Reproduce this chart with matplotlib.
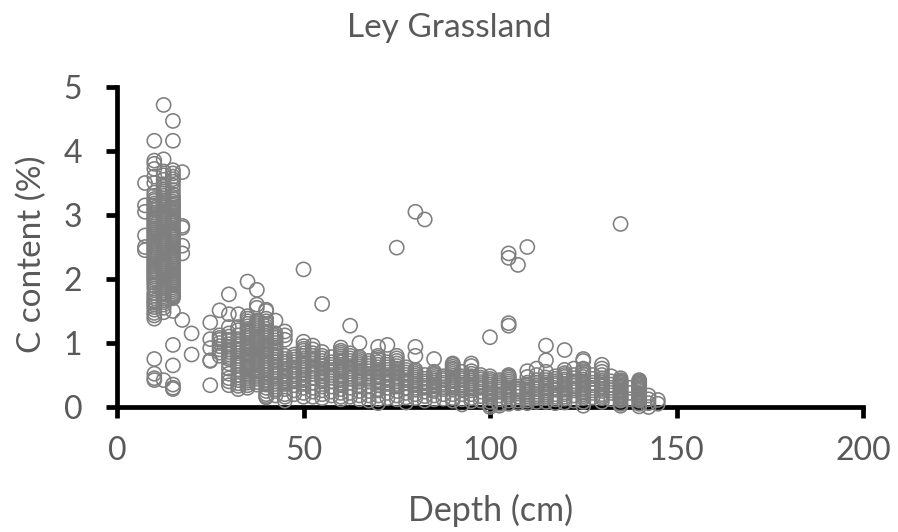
"""Ley Grassland: C content against depth."""
import matplotlib
matplotlib.use("Agg")
import matplotlib.pyplot as plt

GREY, TXT = "#7F7F7F", "#595959"
plt.rcParams.update({"font.family": ["Lato", "DejaVu Sans"], "font.size": 20})

# depth (cm) of each sampled column and the C content (%) read for it
depths = [7.5, 10, 12.5, 15, 17.5, 20,
          25, 27.5, 30, 32.5, 35, 37.5, 40, 42.5, 45, 47.5,
          50, 52.5, 55, 57.5, 60, 62.5, 65, 67.5, 70, 72.5,
          75, 77.5, 80, 82.5, 85, 87.5, 90, 92.5, 95, 97.5,
          100, 102.5, 105, 107.5, 110, 112.5, 115, 117.5, 120, 122.5,
          125, 127.5, 130, 132.5, 135, 137.5, 140, 142.5, 145]

c_07 = [3.5, 3.15, 3.05, 2.68, 2.5, 2.45]
c_10 = [4.16, 3.85, 3.8, 3.72, 3.6, 3.5, 3.35, 3.3, 3.25, 3.22, 3.18, 3.15, 3.11, 3.08, 3.04, 3.0, 2.97,
        2.94, 2.91, 2.88, 2.85, 2.82, 2.79, 2.76, 2.73, 2.7, 2.67, 2.64, 2.61, 2.58, 2.55, 2.52, 2.49,
        2.46, 2.43, 2.4, 2.37, 2.34, 2.31, 2.28, 2.25, 2.22, 2.19, 2.16, 2.13, 2.1, 2.07, 2.04, 2.01,
        1.98, 1.94, 1.9, 1.85, 1.78, 1.74, 1.7, 1.66, 1.63, 1.6, 1.56, 1.52, 1.47, 1.43, 1.38,
        0.75, 0.52, 0.45, 0.42]
c_12 = [4.72, 3.87, 3.68, 3.62, 3.55, 3.48, 3.44, 3.4, 3.37, 3.34, 3.3, 3.26, 3.23, 3.2, 3.17, 3.14, 3.11,
        3.08, 3.05, 3.02, 2.99, 2.96, 2.93, 2.9, 2.87, 2.84, 2.81, 2.78, 2.75, 2.72, 2.69, 2.66, 2.63,
        2.6, 2.57, 2.54, 2.51, 2.48, 2.45, 2.42, 2.39, 2.36, 2.33, 2.3, 2.27, 2.24, 2.21, 2.18, 2.15,
        2.12, 2.09, 2.06, 2.03, 2.0, 1.97, 1.94, 1.91, 1.88, 1.85, 1.82, 1.79, 1.76, 1.73, 1.7, 1.67,
        1.64, 1.6, 1.55, 1.48, 0.42]
c_15 = [4.47, 4.16, 3.7, 3.65, 3.6, 3.56, 3.52, 3.46, 3.39, 3.32, 3.28, 3.25, 3.21, 3.18, 3.15, 3.12, 3.09,
        3.06, 3.03, 3.0, 2.97, 2.94, 2.91, 2.88, 2.84, 2.8, 2.77, 2.74, 2.71, 2.68, 2.65, 2.62, 2.59,
        2.56, 2.53, 2.5, 2.47, 2.44, 2.41, 2.38, 2.35, 2.32, 2.29, 2.26, 2.23, 2.2, 2.17, 2.14, 2.11,
        2.08, 2.05, 2.02, 1.99, 1.96, 1.93, 1.9, 1.87, 1.84, 1.81, 1.78, 1.76, 1.74, 1.72, 1.7,
        1.5, 0.97, 0.65, 0.35, 0.3, 0.28]
c_17 = [3.67, 2.83, 2.8, 2.52, 2.4, 1.36]
c_20 = [1.15, 0.82]
c_25 = [1.32, 1.06, 0.92, 0.73, 0.72, 0.34]
c_27 = [1.51, 1.12, 1.08, 1.05, 1.0, 0.95, 0.9, 0.85, 0.8]
c_30 = [1.76, 1.45, 1.25, 1.15, 1.1, 1.05, 0.98, 0.94, 0.9, 0.86, 0.82, 0.78, 0.75, 0.68, 0.6, 0.52, 0.45, 0.4, 0.34]
c_32 = [1.45, 1.25, 1.2, 1.12, 1.06, 1.02, 0.98, 0.95, 0.91, 0.88, 0.84, 0.8, 0.76, 0.72, 0.68, 0.65, 0.58, 0.5,
        0.46, 0.42, 0.37, 0.33, 0.28]
c_35 = [1.96, 1.42, 1.38, 1.34, 1.3, 1.26, 1.22, 1.18, 1.15, 1.11, 1.08, 1.04, 1.0, 0.97, 0.95, 0.92, 0.9, 0.87,
        0.85, 0.82, 0.8, 0.77, 0.74, 0.71, 0.68, 0.65, 0.62, 0.59, 0.56, 0.53, 0.5, 0.47, 0.44, 0.41, 0.38, 0.34, 0.3]
c_37 = [1.83, 1.6, 1.55, 1.35, 1.31, 1.28, 1.25, 1.22, 1.19, 1.16, 1.13, 1.1, 1.07, 1.04, 1.01, 0.98, 0.95, 0.92,
        0.89, 0.86, 0.83, 0.8, 0.77, 0.74, 0.71, 0.68, 0.65, 0.62, 0.59, 0.56, 0.53, 0.5, 0.47, 0.44, 0.39, 0.35]
c_40 = [1.52, 1.5, 1.38, 1.34, 1.3, 1.26, 1.22, 1.18, 1.15, 1.11, 1.08, 1.04, 1.0, 0.97, 0.94, 0.91, 0.88, 0.84,
        0.8, 0.76, 0.72, 0.68, 0.65, 0.61, 0.58, 0.54, 0.5, 0.46, 0.42, 0.38, 0.35, 0.3, 0.25, 0.2, 0.17, 0.15]
c_42 = [1.35, 1.15, 1.11, 1.08, 1.04, 1.0, 0.96, 0.92, 0.88, 0.85, 0.81, 0.78, 0.74, 0.7, 0.66, 0.62, 0.58, 0.55,
        0.51, 0.48, 0.44, 0.4, 0.36, 0.32, 0.28, 0.25, 0.18]
c_45 = [1.18, 1.12, 1.05, 0.8, 0.75, 0.71, 0.68, 0.64, 0.6, 0.56, 0.52, 0.48, 0.45, 0.4, 0.36, 0.28, 0.2, 0.16, 0.1]
c_47 = [0.82, 0.78, 0.74, 0.7, 0.66, 0.62, 0.58, 0.55, 0.51, 0.48, 0.44, 0.4, 0.34, 0.26, 0.2]
c_50 = [2.15, 1.02, 0.95, 0.91, 0.88, 0.84, 0.8, 0.76, 0.72, 0.68, 0.65, 0.61, 0.58, 0.54, 0.5, 0.46, 0.42, 0.36, 0.3, 0.22, 0.16]
c_52 = [0.96, 0.9, 0.84, 0.8, 0.76, 0.72, 0.68, 0.64, 0.6, 0.56, 0.52, 0.45, 0.38, 0.3, 0.24, 0.16]
c_55 = [1.61, 0.86, 0.8, 0.76, 0.72, 0.68, 0.64, 0.6, 0.56, 0.52, 0.48, 0.44, 0.4, 0.32, 0.26, 0.2, 0.14]
c_57 = [0.78, 0.7, 0.66, 0.62, 0.58, 0.54, 0.5, 0.46, 0.4, 0.32, 0.24, 0.18]
c_60 = [0.93, 0.88, 0.85, 0.82, 0.79, 0.76, 0.73, 0.7, 0.66, 0.62, 0.58, 0.55, 0.51, 0.48, 0.45, 0.42, 0.38, 0.35, 0.28, 0.22, 0.16, 0.12]
c_62 = [1.27, 0.84, 0.8, 0.76, 0.72, 0.68, 0.64, 0.6, 0.56, 0.52, 0.48, 0.45, 0.38, 0.3, 0.22, 0.16]
c_65 = [1.0, 0.78, 0.75, 0.72, 0.69, 0.66, 0.63, 0.6, 0.57, 0.54, 0.5, 0.47, 0.44, 0.4, 0.32, 0.25, 0.18, 0.12]
c_67 = [0.72, 0.68, 0.64, 0.6, 0.56, 0.52, 0.48, 0.44, 0.4, 0.33, 0.25, 0.18, 0.1]
c_70 = [0.94, 0.8, 0.77, 0.74, 0.7, 0.66, 0.62, 0.58, 0.54, 0.5, 0.46, 0.42, 0.38, 0.34, 0.26, 0.18, 0.12, 0.06]
c_72 = [0.97, 0.7, 0.66, 0.62, 0.58, 0.54, 0.5, 0.46, 0.42, 0.38, 0.3, 0.22, 0.14]
c_75 = [2.49, 0.8, 0.76, 0.72, 0.68, 0.64, 0.6, 0.56, 0.52, 0.48, 0.44, 0.4, 0.36, 0.32, 0.25, 0.18, 0.12]
c_77 = [0.62, 0.58, 0.54, 0.5, 0.46, 0.42, 0.38, 0.3, 0.22, 0.15, 0.07]
c_80 = [3.05, 0.94, 0.8, 0.58, 0.55, 0.52, 0.49, 0.46, 0.43, 0.4, 0.37, 0.34, 0.3, 0.27, 0.2, 0.14]
c_82 = [2.93, 0.5, 0.44, 0.4, 0.37, 0.33, 0.3, 0.24, 0.17, 0.1]
c_85 = [0.75, 0.55, 0.52, 0.5, 0.47, 0.44, 0.41, 0.38, 0.35, 0.32, 0.28, 0.25, 0.18, 0.12]
c_87 = [0.48, 0.45, 0.42, 0.38, 0.35, 0.31, 0.28, 0.2, 0.13]
c_90 = [0.68, 0.66, 0.63, 0.6, 0.58, 0.55, 0.52, 0.49, 0.46, 0.43, 0.4, 0.36, 0.33, 0.3, 0.27, 0.2, 0.14, 0.1]
c_92 = [0.55, 0.48, 0.45, 0.42, 0.38, 0.35, 0.31, 0.28, 0.2, 0.12, 0.04]
c_95 = [0.68, 0.64, 0.56, 0.52, 0.48, 0.45, 0.41, 0.38, 0.35, 0.32, 0.29, 0.26, 0.2, 0.14, 0.09]
c_97 = [0.5, 0.46, 0.43, 0.39, 0.36, 0.33, 0.3, 0.24, 0.17, 0.1]
c_100 = [1.09, 0.48, 0.44, 0.41, 0.38, 0.35, 0.32, 0.29, 0.26, 0.23, 0.2, 0.17, 0.14, 0.08, 0.03, 0.0]
c_102 = [0.42, 0.39, 0.36, 0.33, 0.3, 0.27, 0.24, 0.18, 0.12, 0.05, 0.02]
c_105 = [2.4, 2.33, 1.31, 1.27, 0.5, 0.48, 0.46, 0.43, 0.4, 0.37, 0.34, 0.31, 0.28, 0.25, 0.22, 0.19, 0.16, 0.1, 0.05]
c_107 = [2.22, 0.32, 0.29, 0.27, 0.24, 0.21, 0.16, 0.1, 0.06]
c_110 = [2.5, 0.56, 0.47, 0.38, 0.35, 0.33, 0.3, 0.27, 0.24, 0.22, 0.19, 0.16, 0.13, 0.1, 0.06]
c_112 = [0.6, 0.5, 0.42, 0.38, 0.34, 0.31, 0.28, 0.24, 0.2, 0.17, 0.14, 0.08]
c_115 = [0.96, 0.73, 0.55, 0.46, 0.42, 0.38, 0.35, 0.32, 0.29, 0.26, 0.23, 0.2, 0.17, 0.14, 0.08]
c_117 = [0.48, 0.44, 0.4, 0.37, 0.34, 0.3, 0.27, 0.2, 0.16, 0.12, 0.06]
c_120 = [0.89, 0.58, 0.53, 0.5, 0.47, 0.43, 0.4, 0.36, 0.33, 0.3, 0.27, 0.23, 0.2, 0.16, 0.13, 0.07]
c_122 = [0.6, 0.5, 0.45, 0.4, 0.36, 0.33, 0.29, 0.26, 0.18, 0.1]
c_125 = [0.75, 0.72, 0.6, 0.58, 0.55, 0.51, 0.47, 0.43, 0.4, 0.36, 0.33, 0.3, 0.27, 0.23, 0.2, 0.17, 0.14, 0.08, 0.02]
c_127 = [0.5, 0.44, 0.38, 0.34, 0.3, 0.26, 0.22, 0.15]
c_130 = [0.66, 0.6, 0.55, 0.5, 0.45, 0.41, 0.38, 0.35, 0.32, 0.28, 0.25, 0.2, 0.17, 0.14, 0.08]
c_132 = [0.48, 0.4, 0.35, 0.3, 0.26, 0.22, 0.12]
c_135 = [2.86, 0.45, 0.42, 0.4, 0.38, 0.36, 0.34, 0.32, 0.3, 0.28, 0.26, 0.24, 0.22, 0.2, 0.18, 0.16, 0.14, 0.12, 0.1, 0.05, 0.02]
c_137 = [0.3, 0.22, 0.12]
c_140 = [0.42, 0.4, 0.39, 0.37, 0.35, 0.33, 0.31, 0.29, 0.27, 0.25, 0.22, 0.2, 0.18, 0.16, 0.14, 0.12, 0.1, 0.05, 0.01]
c_142 = [0.18, 0.12, 0.06, 0.0]
c_145 = [0.11, 0.05]

columns = [c_07, c_10, c_12, c_15, c_17, c_20,
           c_25, c_27, c_30, c_32, c_35, c_37, c_40, c_42, c_45, c_47,
           c_50, c_52, c_55, c_57, c_60, c_62, c_65, c_67, c_70, c_72,
           c_75, c_77, c_80, c_82, c_85, c_87, c_90, c_92, c_95, c_97,
           c_100, c_102, c_105, c_107, c_110, c_112, c_115, c_117, c_120, c_122,
           c_125, c_127, c_130, c_132, c_135, c_137, c_140, c_142, c_145]
x_ticks = [0, 50, 100, 150, 200]
y_ticks = [0, 1, 2, 3, 4, 5]

fig = plt.figure(figsize=(8.98, 5.32), dpi=100)
ax = fig.add_axes([117 / 898, 1 - 407 / 532, (863 - 117) / 898, (407 - 87) / 532])

for d, vals in zip(depths, columns):
    ax.scatter([d] * len(vals), vals, s=104, facecolors="none", edgecolors=GREY,
               linewidths=1.15, clip_on=False, zorder=3)

ax.set_xlim(0, 200); ax.set_ylim(0, 5)
ax.set_xticks(x_ticks); ax.set_yticks(y_ticks)
for s in ("top", "right"):
    ax.spines[s].set_visible(False)
for s in ("left", "bottom"):
    ax.spines[s].set_linewidth(3.4); ax.spines[s].set_color("black")
ax.tick_params(length=8, width=3.4, color="black", labelcolor=TXT, labelsize=23)
ax.tick_params(axis="x", pad=13)
ax.tick_params(axis="y", pad=17)
fig.text(491 / 898, 1 - 510 / 532, "Depth (cm)", fontsize=24.5, color=TXT, ha="center", va="center")
fig.text(32 / 898, 1 - 254 / 532, "C content (%)", fontsize=24, color=TXT, ha="center", va="center", rotation=90)
fig.text(449 / 898, 1 - 28 / 532, "Ley Grassland", fontsize=24, color=TXT, ha="center", va="center")

fig.savefig("out.png", dpi=100)
